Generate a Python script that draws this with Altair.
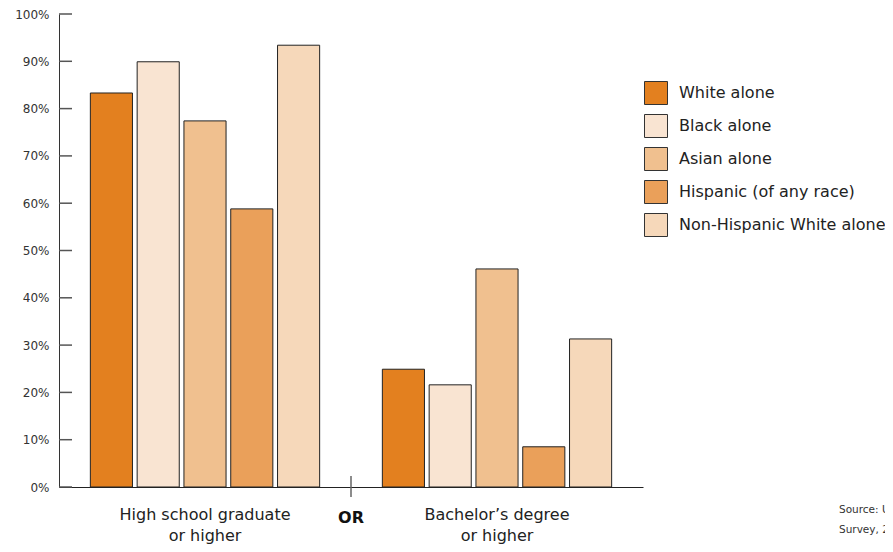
import altair as alt
import pandas as pd

categories = ["High school graduate|or higher", "Bachelor’s degree|or higher"]
series = ["White alone", "Black alone", "Asian alone", "Hispanic (of any race)", "Non-Hispanic White alone"]
colors = ["#E3801F", "#F9E4D2", "#F0C08F", "#EAA05A", "#F6D8BA"]
hs_values = [83.3, 89.9, 77.4, 58.8, 93.4]
ba_values = [24.9, 21.6, 46.1, 8.5, 31.3]
y_ticks = [0, 10, 20, 30, 40, 50, 60, 70, 80, 90, 100]
source_lines = "Source: U.S. Census Bureau, 2017 American Community\nSurvey, 2017."

rows = []
for s, v in zip(series, hs_values):
    rows.append({"cat": categories[0], "series": s, "value": v})
for s, v in zip(series, ba_values):
    rows.append({"cat": categories[1], "series": s, "value": v})
df = pd.DataFrame(rows)

W, H = 584, 473
FONT = "DejaVu Sans"

x_enc = alt.X("cat:N", sort=categories, scale=alt.Scale(paddingInner=0, paddingOuter=0),
              axis=alt.Axis(title=None, labelExpr="split(datum.value, '|')", labelAngle=0,
                            ticks=False, domain=True, domainColor="#222", labelFontSize=16,
                            labelColor="#222", labelPadding=19, labelLineHeight=21, labelFont=FONT))

bars = alt.Chart(df).mark_bar(stroke="#222", strokeWidth=1).encode(
    x=x_enc,
    xOffset=alt.XOffset("series:N", sort=series, scale=alt.Scale(paddingInner=0.1, paddingOuter=0.67)),
    y=alt.Y("value:Q", scale=alt.Scale(domain=[0, 100]),
            axis=alt.Axis(title=None, values=y_ticks, labelExpr="datum.value + '%'", ticks=False,
                          grid=False, domainColor="#333", labelFontSize=12, labelColor="#333",
                          labelPadding=10, labelFont=FONT)),
    color=alt.Color("series:N", sort=series, scale=alt.Scale(domain=series, range=colors),
                    legend=alt.Legend(title=None, orient="none", legendX=585, legendY=67,
                                      symbolType="square", symbolSize=529, symbolStrokeColor="#333",
                                      symbolStrokeWidth=1, symbolOpacity=1, labelFontSize=16,
                                      labelColor="#222", labelFont=FONT, rowPadding=5,
                                      labelOffset=11, labelLimit=400)),
)

tick_df = pd.DataFrame({"v": y_ticks})
ticks = alt.Chart(tick_df).mark_rule(color="#555", strokeWidth=1.5).encode(
    y="v:Q", x=alt.value(0), x2=alt.value(13)
)

or_df = pd.DataFrame({"cat": [categories[1]], "label": ["OR"]})
or_rule = alt.Chart(or_df).mark_rule(color="#666", strokeWidth=1.5).encode(
    x=alt.X("cat:N", sort=categories, bandPosition=0), y=alt.value(462), y2=alt.value(483)
)
or_text = alt.Chart(or_df).mark_text(fontSize=16, fontWeight="bold", font=FONT, color="#111",
                                     baseline="middle").encode(
    x=alt.X("cat:N", sort=categories, bandPosition=0), y=alt.value(504), text="label:N"
)

src_df = pd.DataFrame({"t": [source_lines]})
src = alt.Chart(src_df).mark_text(fontSize=10.5, font=FONT, color="#333", align="left",
                                  baseline="middle", lineBreak="\n", lineHeight=20).encode(
    x=alt.value(780), y=alt.value(496), text="t:N"
)

chart = alt.layer(bars, ticks, or_rule, or_text, src).properties(
    width=W, height=H,
    autosize=alt.AutoSizeParams(type="none"),
    padding={"left": 51, "top": 6, "right": 242, "bottom": 57},
).configure(background="white", view=alt.ViewConfig(stroke=None))

chart.save("out.html", embed_options={"renderer": "svg", "actions": False})
